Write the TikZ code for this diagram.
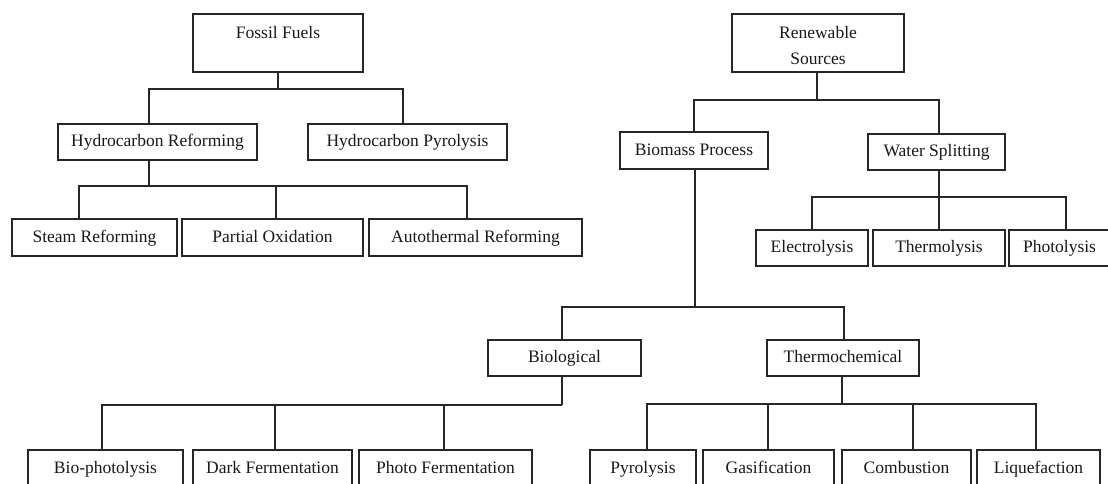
\documentclass[tikz,border=0pt]{standalone}
\usepackage{fontspec}
\setmainfont{Liberation Serif}
\tikzset{
  box/.style={draw=black!85, line width=1.3pt, fill=white, inner sep=0pt, outer sep=0pt,
    align=center, font=\fontsize{17.5pt}{26pt}\selectfont, text=black!90},
  one/.style={box, text height=12.5pt, text depth=3.5pt},
  link/.style={draw=black!85, line width=1.3pt}
}
\begin{document}
\begin{tikzpicture}[x=1pt,y=-1pt]
\useasboundingbox (0,0) rectangle (1108,483);
\clip (0,0) rectangle (1108,483);
% ---------- Fossil fuels side
\node[box, minimum width=170pt, minimum height=58pt] (FF) at (278,43) {\rule{0pt}{17.5pt}Fossil Fuels\\~};
\node[one, minimum width=199pt, minimum height=36pt] (HR) at (157.5,142) {Hydrocarbon Reforming};
\node[one, minimum width=199pt, minimum height=36pt] (HP) at (407.5,142) {Hydrocarbon Pyrolysis};
\node[one, minimum width=165pt, minimum height=37pt] (SR) at (94.5,237.5) {Steam Reforming};
\node[one, minimum width=181pt, minimum height=37pt] (PO) at (272.5,237.5) {Partial Oxidation};
\node[one, minimum width=213pt, minimum height=37pt] (AR) at (475.5,237.5) {Autothermal Reforming};
% ---------- Renewable side
\node[box, minimum width=172pt, minimum height=58pt] (RS) at (818,43) {\rule{0pt}{17.5pt}Renewable\\Sources};
\node[one, minimum width=148pt, minimum height=37pt] (BP) at (694,150.5) {Biomass Process};
\node[one, minimum width=137pt, minimum height=36pt] (WS) at (936.5,152) {Water Splitting};
\node[one, minimum width=112pt, minimum height=36pt] (EL) at (812,248) {Electrolysis};
\node[one, minimum width=132pt, minimum height=36pt] (TH) at (939,248) {Thermolysis};
\node[one, minimum width=101pt, minimum height=36pt] (PH) at (1059.5,248) {Photolysis};
\node[one, minimum width=153pt, minimum height=36pt] (BI) at (564.5,358) {Biological};
\node[one, minimum width=152pt, minimum height=36pt] (TC) at (843,358) {Thermochemical};
\node[one, minimum width=155pt, minimum height=37pt] (BPh) at (105.5,468.5) {Bio-photolysis};
\node[one, minimum width=159pt, minimum height=37pt] (DF) at (272.5,468.5) {Dark Fermentation};
\node[one, minimum width=173pt, minimum height=37pt] (PF) at (445.5,468.5) {Photo Fermentation};
\node[one, minimum width=106pt, minimum height=37pt] (PY) at (643,468.5) {Pyrolysis};
\node[one, minimum width=131pt, minimum height=37pt] (GA) at (768.5,468.5) {Gasification};
\node[one, minimum width=129pt, minimum height=37pt] (CO) at (906.5,468.5) {Combustion};
\node[one, minimum width=123pt, minimum height=37pt] (LI) at (1038.5,468.5) {Liquefaction};
% ---------- bus coordinates
\coordinate (a1) at (149,89);  \coordinate (a2) at (403,89);
\coordinate (b1) at (79,186);  \coordinate (b2) at (276,186); \coordinate (b3) at (467,186);
\coordinate (c0) at (817,100); \coordinate (c1) at (694,100); \coordinate (c2) at (939,100);
\coordinate (d1) at (812,197); \coordinate (d2) at (939,197); \coordinate (d3) at (1066,197);
\coordinate (e0) at (695,307); \coordinate (e1) at (562,307); \coordinate (e2) at (844,307);
\coordinate (f1) at (102,405); \coordinate (f2) at (275,405); \coordinate (f3) at (444,405); \coordinate (f4) at (562,405);
\coordinate (g1) at (647,404); \coordinate (g2) at (768,404); \coordinate (g3) at (913,404); \coordinate (g4) at (1036,404); \coordinate (g5) at (842,404);
% ---------- connectors
\draw[link] (FF.south) -- (FF.south |- a1);
\draw[link] (HR.north -| a1) -- (a1) -- (a2) -- (HP.north -| a2);
\draw[link] (HR.south -| a1) -- (a1 |- b1);
\draw[link] (SR.north -| b1) -- (b1) -- (b3) -- (AR.north -| b3);
\draw[link] (b2) -- (PO.north -| b2);
\draw[link] (RS.south -| c0) -- (c0);
\draw[link] (BP.north -| c1) -- (c1) -- (c2) -- (WS.north -| c2);
\draw[link] (BP.south -| e0) -- (e0);
\draw[link] (WS.south -| d2) -- (d2);
\draw[link] (EL.north -| d1) -- (d1) -- (d3) -- (PH.north -| d3);
\draw[link] (d2) -- (TH.north -| d2);
\draw[link] (BI.north -| e1) -- (e1) -- (e2) -- (TC.north -| e2);
\draw[link] (BI.south -| f4) -- (f4);
\draw[link] (BPh.north -| f1) -- (f1) -- (f4);
\draw[link] (f2) -- (DF.north -| f2);
\draw[link] (f3) -- (PF.north -| f3);
\draw[link] (TC.south -| g5) -- (g5);
\draw[link] (PY.north -| g1) -- (g1) -- (g4) -- (LI.north -| g4);
\draw[link] (g2) -- (GA.north -| g2);
\draw[link] (g3) -- (CO.north -| g3);
\end{tikzpicture}
\end{document}
